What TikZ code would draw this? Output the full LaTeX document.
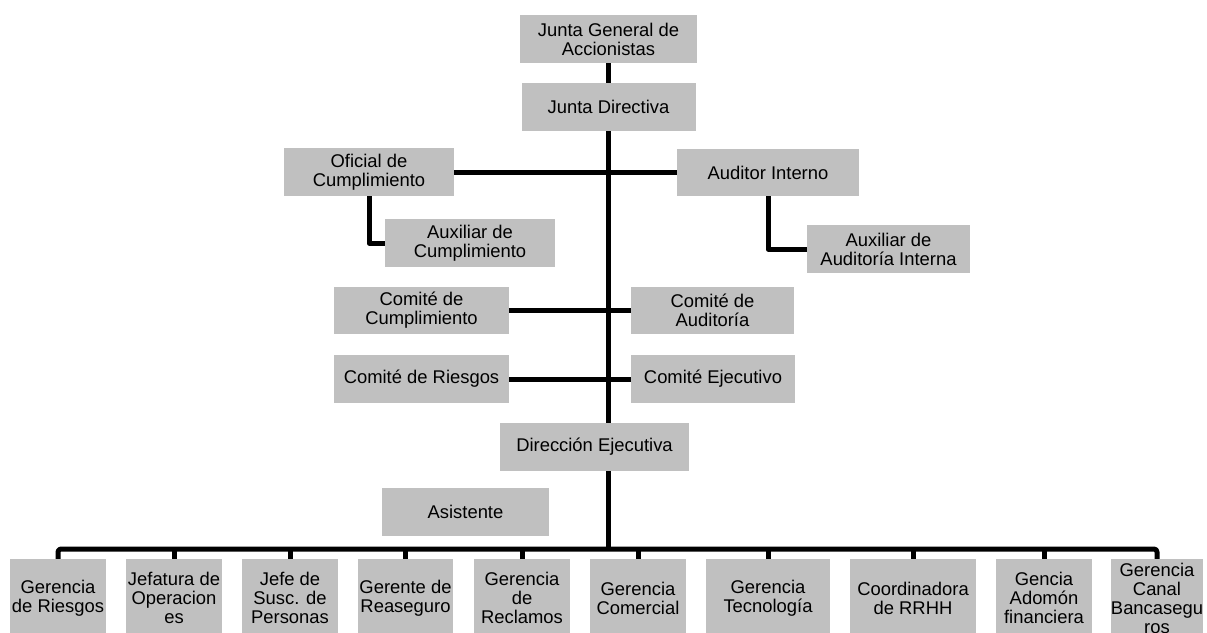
\documentclass[tikz,border=0pt]{standalone}
\usepackage{fontspec}
\setmainfont{Liberation Sans}
\definecolor{boxgray}{HTML}{C0C0C0}
\begin{document}
\begin{tikzpicture}[x=1pt,y=-1pt,
  box/.style={fill=boxgray, draw=none, inner sep=0pt, align=center,
    font=\fontsize{18.4}{19}\selectfont, minimum height=48pt},
  bot/.style={box, minimum height=78pt, minimum width=96pt},
  conn/.style={line width=5pt, line join=round}]
\useasboundingbox (0,0) rectangle (1207,632);
\clip (0,0) rectangle (1207,632);
% top
\node[box, minimum width=177pt] (jga) at (608.5,39) {Junta General de\\Accionistas};
\node[box, minimum width=174pt] (jd) at (608.5,107) {Junta Directiva};
\node[box, minimum width=170pt] (of) at (369,172) {Oficial de\\Cumplimiento};
\node[box, minimum width=170pt] (ac) at (470,243) {Auxiliar de\\Cumplimiento};
\node[box, minimum width=182pt, minimum height=47pt] (ai) at (768,172.5) {Auditor Interno};
\node[box, minimum width=163pt] (aa) at (888.5,249) {Auxiliar de\\Auditoría Interna};
\node[box, minimum width=175pt, minimum height=47pt] (cc) at (421.5,310.5) {Comité de\\Cumplimiento};
\node[box, minimum width=163pt, minimum height=47pt] (ca) at (712.5,310.5) {Comité de\\Auditoría};
\node[box, minimum width=175pt] (cr) at (421.5,379) {Comité de Riesgos};
\node[box, minimum width=164pt] (ce) at (713,379) {Comité Ejecutivo};
\node[box, minimum width=189pt] (de) at (594.5,447) {Dirección Ejecutiva};
\node[box, minimum width=167pt] (as) at (465.5,512) {Asistente};
% bottom row
\node[bot] (b1) at (58,598) {Gerencia\\de Riesgos};
\node[bot] (b2) at (174,598) {Jefatura de\\Operacion\\es};
\node[bot] (b3) at (290,598) {Jefe de\\Susc. de\\Personas};
\node[bot, minimum width=95pt] (b4) at (405.5,598) {Gerente de\\Reaseguro};
\node[bot] (b5) at (522,598) {Gerencia\\de\\Reclamos};
\node[bot] (b6) at (638,598) {Gerencia\\Comercial};
\node[bot, minimum width=124pt] (b7) at (768,598) {Gerencia\\Tecnología};
\node[bot, minimum width=126pt] (b8) at (913,598) {Coordinadora\\de RRHH};
\node[bot] (b9) at (1044,598) {Gencia\\Adomón\\financiera};
\node[bot, minimum width=90pt] (b10) at (1157,598) {Gerencia\\Canal\\Bancasegu\\ros};
% connectors
\coordinate (spine) at (608,0);
\coordinate (busy) at (0,549);
\draw[conn] (jga.south -| spine) -- (jd.north -| spine);
\draw[conn] (jd.south -| spine) -- (de.north -| spine);
\draw[conn] (of.east) -- (of.east -| spine);
\draw[conn] (ai.west) -- (ai.west -| spine);
\draw[conn] (of.south) |- (ac.west);
\draw[conn] (ai.south) |- (aa.west);
\draw[conn] (cc.east) -- (ca.west);
\draw[conn] (cr.east) -- (ce.west);
\draw[conn] (de.south -| spine) -- (busy -| spine);
\draw[conn, rounded corners=3pt] (b1.north) -- (b1.north |- busy) -- (b10.north |- busy) -- (b10.north);
\foreach \b in {b2,b3,b4,b5,b6,b7,b8,b9}
  \draw[conn] (\b.north) -- (\b.north |- busy);
\end{tikzpicture}
\end{document}
